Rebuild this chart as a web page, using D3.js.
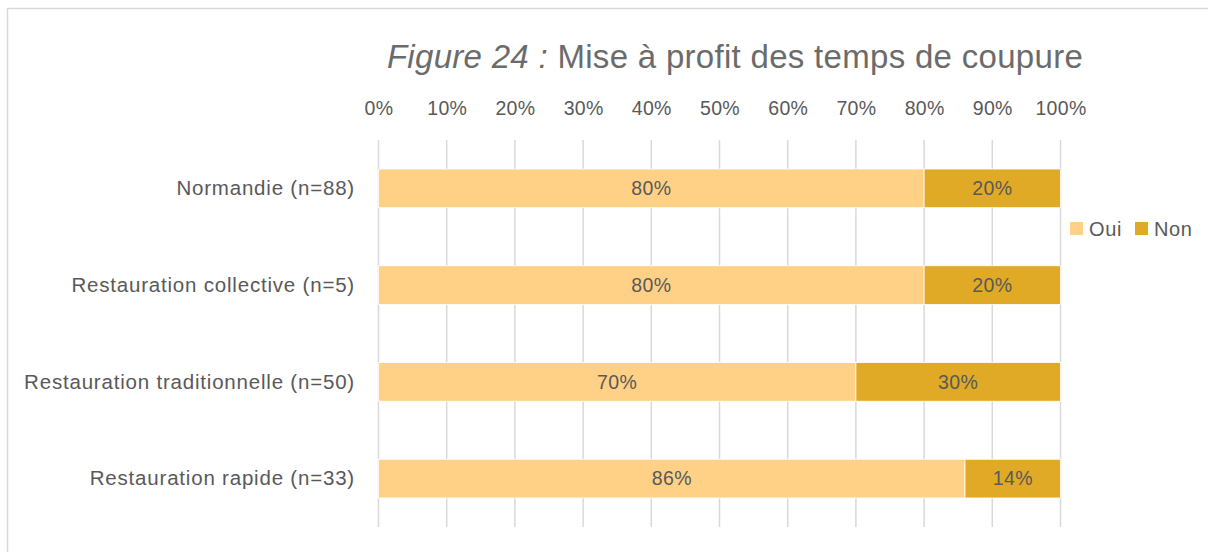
<!DOCTYPE html>
<html><head><meta charset="utf-8">
<script src="https://cdn.jsdelivr.net/npm/d3@7"></script>
<style>body{margin:0;background:#fff}svg{display:block}</style>
</head><body>
<svg id="c" width="1208" height="552"></svg>
<script>
const categories = ["Normandie (n=88)", "Restauration collective (n=5)", "Restauration traditionnelle (n=50)", "Restauration rapide (n=33)"];
const oui = [80, 80, 70, 86];
const non = [20, 20, 30, 14];
const seriesNames = ["Oui", "Non"];
const seriesColors = ["#FED186", "#E0AA26"];
const tickValues = [0, 10, 20, 30, 40, 50, 60, 70, 80, 90, 100];

const svg = d3.select("#c");
const FONT = "'Liberation Sans', Arial, sans-serif";
const textCol = "#595959";

svg.append("rect").attr("x", 7.5).attr("y", 8.5).attr("width", 1220).attr("height", 560)
  .attr("fill", "#fff").attr("stroke", "#D9D9D9").attr("stroke-width", 1.5);

const x = d3.scaleLinear().domain([0, 100]).range([378.5, 1060.5]);
const y = d3.scaleBand().domain(categories).range([140, 527]).paddingInner(0.6).paddingOuter(0.3);

// grid
svg.append("g").selectAll("line").data(tickValues).join("line")
  .attr("x1", d => x(d)).attr("x2", d => x(d)).attr("y1", 140).attr("y2", 527)
  .attr("stroke", "#D9D9D9").attr("stroke-width", 1.5);

// top axis
const ax = svg.append("g").attr("transform", "translate(0,108)")
  .call(d3.axisTop(x).tickValues(tickValues).tickFormat(d => d + "%").tickSize(0).tickPadding(0));
ax.select(".domain").remove();
ax.selectAll("text").attr("fill", textCol).attr("font-family", FONT).attr("font-size", 19.5)
  .attr("letter-spacing", 0.3).attr("dy", "0.35em");

const data = categories.map((c, i) => ({cat: c, vals: [oui[i], non[i]]}));
const rows = svg.append("g").selectAll("g").data(data).join("g");
rows.each(function(d) {
  let acc = 0;
  const g = d3.select(this);
  d.vals.forEach((v, j) => {
    g.append("rect").attr("x", x(acc)).attr("width", x(acc + v) - x(acc))
      .attr("y", y(d.cat)).attr("height", y.bandwidth())
      .attr("fill", seriesColors[j]).attr("stroke", "#fff").attr("stroke-width", 0.8);
    g.append("text").attr("x", x(acc + v / 2)).attr("y", y(d.cat) + y.bandwidth() / 2)
      .attr("dy", "0.35em").attr("text-anchor", "middle").attr("fill", textCol)
      .attr("font-family", FONT).attr("font-size", 19.5).attr("letter-spacing", 0.4).text(v + "%");
    acc += v;
  });
});

// category axis labels
const ay = svg.append("g").attr("transform", "translate(368,0)")
  .call(d3.axisLeft(y).tickSize(0).tickPadding(13));
ay.select(".domain").remove();
ay.selectAll("text").attr("fill", textCol).attr("font-family", FONT).attr("font-size", 20.5)
  .attr("letter-spacing", 0.8).attr("dy", "0.33em");

// title
const title = svg.append("text").attr("x", 735).attr("y", 68).attr("text-anchor", "middle")
  .attr("fill", "#6b6b6b").attr("font-family", FONT).attr("font-size", 33).attr("letter-spacing", 0.3);
title.append("tspan").attr("font-style", "italic").text("Figure 24 :");
title.append("tspan").text(" Mise à profit des temps de coupure");

// legend
const leg = svg.append("g");
const legX = [1070, 1135];
seriesNames.forEach((n, i) => {
  leg.append("rect").attr("x", legX[i]).attr("y", 222).attr("width", 13).attr("height", 13).attr("fill", seriesColors[i]);
  leg.append("text").attr("x", legX[i] + 19).attr("y", 228.5).attr("dy", "0.35em")
    .attr("fill", textCol).attr("font-family", FONT).attr("font-size", 20).attr("letter-spacing", 0.6).text(n);
});
</script>
</body></html>
